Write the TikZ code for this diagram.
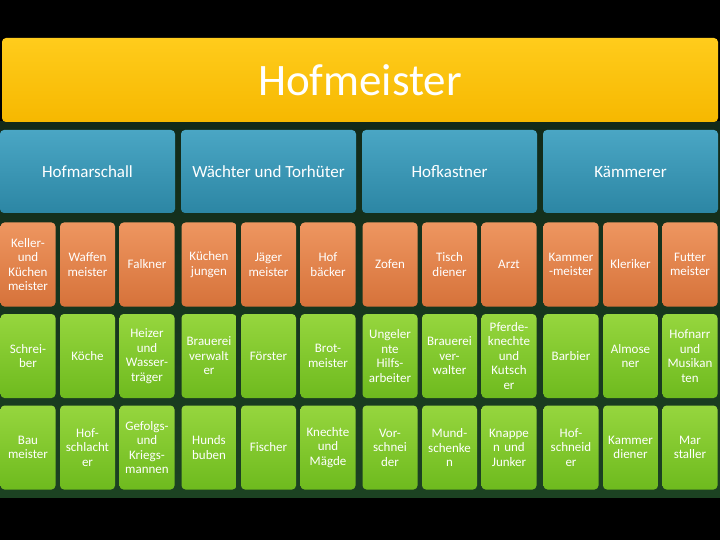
\documentclass[tikz,border=0pt]{standalone}
\usepackage{fontspec}
\setmainfont{Carlito}
\usepackage{xcolor}
\usepackage{tikz}
\usetikzlibrary{calc,positioning}
\definecolor{bgtop}{RGB}{18,42,26}
\definecolor{bgbot}{RGB}{28,66,34}
\definecolor{goldtop}{RGB}{255,204,28}
\definecolor{goldbot}{RGB}{246,184,0}
\definecolor{bluetop}{RGB}{74,166,196}
\definecolor{bluebot}{RGB}{44,134,164}
\definecolor{orangetop}{RGB}{238,150,96}
\definecolor{orangebot}{RGB}{214,114,58}
\definecolor{greentop}{RGB}{150,214,62}
\definecolor{greenbot}{RGB}{110,186,30}

\begin{document}
\begin{tikzpicture}[x=1pt,y=-1pt,
  box/.style={rounded corners=4pt,inner sep=1pt,align=center,text=white},
  smallbox/.style={box,text width=53pt,minimum width=55pt,minimum height=84pt,font=\fontsize{13}{14.5}\selectfont},
  orangebox/.style={smallbox,top color=orangetop,bottom color=orangebot},
  greenbox/.style={smallbox,top color=greentop,bottom color=greenbot},
  headbox/.style={box,minimum width=175pt,minimum height=83pt,top color=bluetop,bottom color=bluebot,font=\fontsize{17}{19}\selectfont},
  titlebox/.style={box,minimum width=716pt,minimum height=84pt,top color=goldtop,bottom color=goldbot,font=\fontsize{45}{50}\selectfont}]
% background
\fill[black] (0,0) rectangle (720,540);
\shade[top color=bgtop,bottom color=bgbot] (0,122) rectangle (720,497);
\useasboundingbox (0,0) rectangle (720,540);
% top
\node[titlebox] (hofmeister) at (360,80) {Hofmeister};
\foreach \t [count=\i] in {Hofmarschall,W\"achter und Torh\"uter,Hofkastner,K\"ammerer}
  \node[headbox] (h\i) at ({181*(\i-1)+87.5},171.5) {\t};
% first row (orange)
\foreach \t [count=\i] in {{Keller-\\und\\K\"uchen\\meister},{Waffen\\meister},Falkner,{K\"uchen\\jungen},{J\"ager\\meister},{Hof\\b\"acker},
  Zofen,{Tisch\\diener},Arzt,{Kammer\\-meister},Kleriker,{Futter\\meister}}{
  \pgfmathsetmacro\cx{181*int((\i-1)/3)+28+59.5*mod(\i-1,3)}
  \node[orangebox] (o\i) at (\cx,264.5) {\t};
}
% second row
\foreach \t [count=\i] in {{Schrei-\\ber},K\"oche,{Heizer\\und\\Wasser-\\tr\"ager},{Brauerei\\verwalt\\er},F\"orster,{Brot-\\meister},
  {Ungeler\\nte\\Hilfs-\\arbeiter},{Brauerei\\ver-\\walter},{Pferde-\\knechte\\und\\Kutsch\\er},Barbier,{Almose\\ner},{Hofnarr\\und\\Musikan\\ten}}{
  \pgfmathsetmacro\cx{181*int((\i-1)/3)+28+59.5*mod(\i-1,3)}
  \node[greenbox] (g\i) at (\cx,356) {\t};
}
% third row
\foreach \t [count=\i] in {{Bau\\meister},{Hof-\\schlacht\\er},{Gefolgs-\\und\\Kriegs-\\mannen},{Hunds\\buben},Fischer,{Knechte\\und\\M\"agde},
  {Vor-\\schnei\\der},{Mund-\\schenke\\n},{Knappe\\n und\\Junker},{Hof-\\schneid\\er},{Kammer\\diener},{Mar\\staller}}{
  \pgfmathsetmacro\cx{181*int((\i-1)/3)+28+59.5*mod(\i-1,3)}
  \node[greenbox] (l\i) at (\cx,447.5) {\t};
}
\end{tikzpicture}
\end{document}
